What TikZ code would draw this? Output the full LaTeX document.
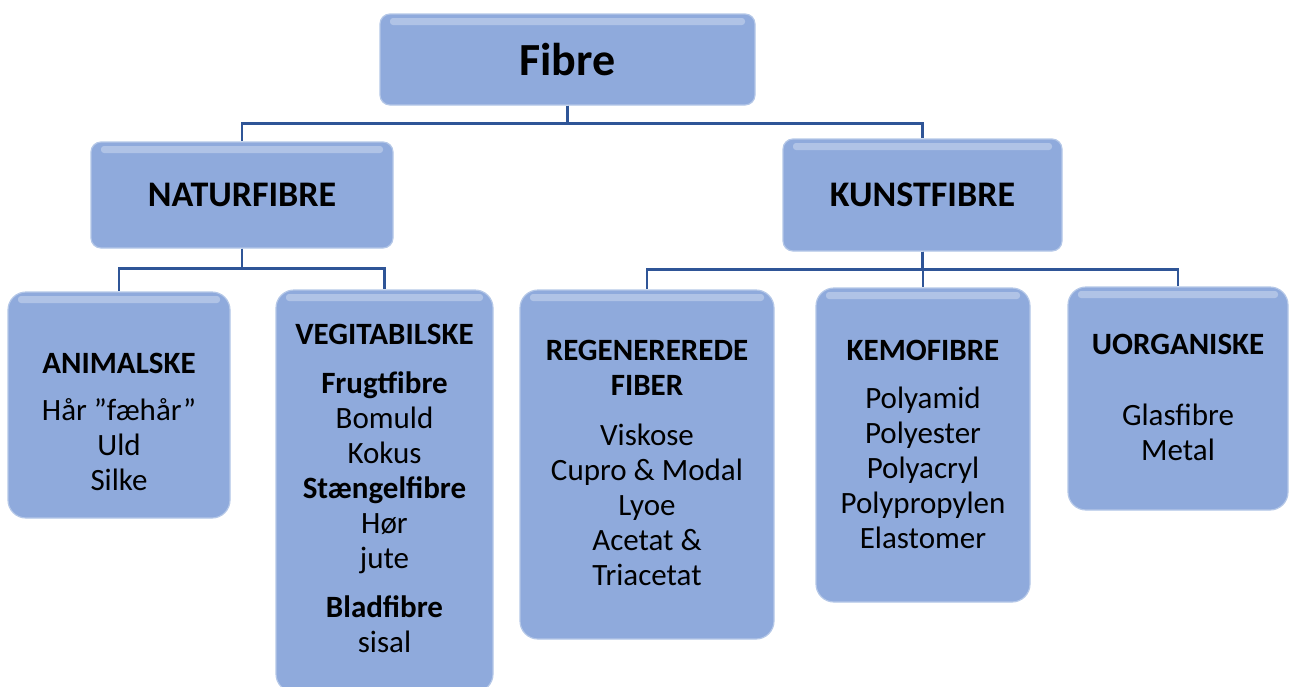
\documentclass[tikz,border=0pt]{standalone}
\usepackage{fontspec}
\setmainfont{Carlito}
\usetikzlibrary{positioning, calc}
\definecolor{fbfill}{HTML}{8FAADC}
\definecolor{fbedge}{HTML}{B4C7E7}
\definecolor{fbline}{HTML}{2F5597}

\begin{document}
\begin{tikzpicture}[x=1pt, y=-1pt,
    box/.style={rectangle, rounded corners=#1, fill=fbfill, draw=fbedge, line width=1.2pt, inner sep=0pt,
      path picture={\fill[white, opacity=0.3, rounded corners=3pt]
        ($(path picture bounding box.north west)+(10pt,-4pt)$) rectangle
        ($(path picture bounding box.north east)+(-10pt,-11pt)$);}},
    box/.default=18pt,
    txt/.style={align=center, font=\fontsize{31}{35}\selectfont, inner sep=0pt},
    link/.style={draw=fbline, line width=2.7pt}]
    \useasboundingbox (0,0) rectangle (1290,686);
    % top levels
    \node[box=10pt, minimum width=375pt, minimum height=91pt] (fibre) at (567.5,59.5)
      {\fontsize{46}{50}\selectfont\bfseries Fibre};
    \node[box=10pt, minimum width=302pt, minimum height=106pt] (natur) at (242,195)
      {\fontsize{36}{40}\selectfont\bfseries NATURFIBRE};
    \node[box=10pt, minimum width=279pt, minimum height=112pt] (kunst) at (922.5,195)
      {\fontsize{36}{40}\selectfont\bfseries KUNSTFIBRE};
    % groups
    \node[box, minimum width=222pt, minimum height=226pt] (anim) at (119,405) {};
    \node[box, minimum width=217pt, minimum height=402pt] (veg) at (384.5,491) {};
    \node[box, minimum width=254pt, minimum height=349pt] (regen) at (647,464.5) {};
    \node[box, minimum width=214pt, minimum height=314pt] (kemo) at (923,445) {};
    \node[box, minimum width=220pt, minimum height=223pt] (uorg) at (1178,398.5) {};
    \node[txt] (animtxt) at (119,421.5)
      {\textbf{ANIMALSKE}\\[12pt] Hår ”fæhår”\\ Uld\\ Silke};
    \node[txt] (vegtxt) at (384.5,488.5)
      {\textbf{VEGITABILSKE}\\[14pt] \textbf{Frugtfibre}\\ Bomuld\\ Kokus\\
       \textbf{Stængelfibre}\\ Hør\\ jute\\[14pt] \textbf{Bladfibre}\\ sisal};
    \node[txt] (regentxt) at (647,463)
      {\textbf{REGENEREREDE}\\ \textbf{FIBER}\\[15pt] Viskose\\ Cupro \& Modal\\ Lyoe\\
       Acetat \&\\ Triacetat};
    \node[txt] (kemotxt) at (923,444)
      {\textbf{KEMOFIBRE}\\[13pt] Polyamid\\ Polyester\\ Polyacryl\\ Polypropylen\\ Elastomer};
    \node[txt] (uorgtxt) at (1178,397.5)
      {\textbf{UORGANISKE}\\[36pt] Glasfibre\\ Metal};
    % connectors
    \draw[link] (fibre.south) -- ++(0,18) -| (natur.north);
    \draw[link] (fibre.south) -- ++(0,18) -| (kunst.north);
    \foreach \g in {anim, veg}
      \draw[link] (natur.south) -- ++(0,20) -| (\g.north);
    \foreach \g in {regen, kemo, uorg}
      \draw[link] (kunst.south) -- ++(0,18) -| (\g.north);
\end{tikzpicture}
\end{document}
